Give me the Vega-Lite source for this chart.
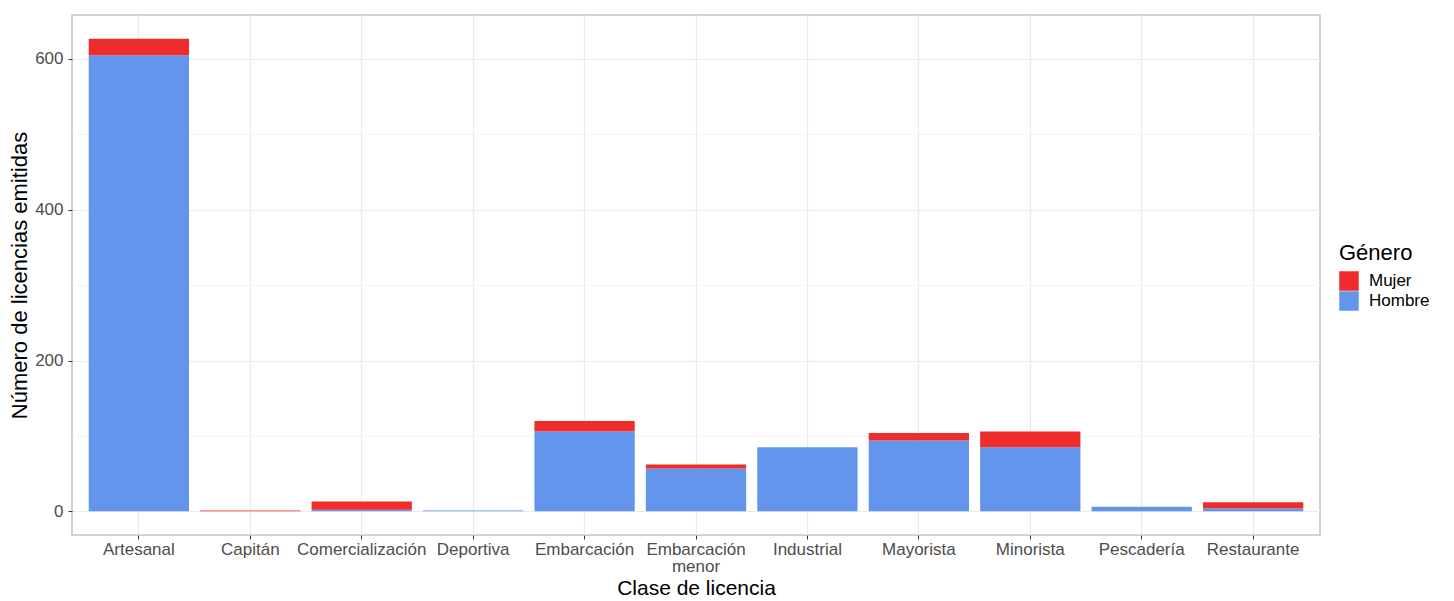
{
  "$schema": "https://vega.github.io/schema/vega-lite/v6.json",
  "autosize": {"type": "none"},
  "width": 1248,
  "height": 520,
  "padding": {"left": 72, "top": 15, "right": 134, "bottom": 66},
  "background": "white",
  "config": {
    "font": "Liberation Sans",
    "view": {"stroke": "#c4c4c4", "strokeWidth": 1.5},
    "axis": {"domain": false, "tickColor": "#333333", "tickSize": 4, "labelColor": "#4d4d4d", "labelFontSize": 17, "titleColor": "#000000", "titleFontSize": 21, "titleFontWeight": "normal", "gridColor": "#ebebeb", "gridWidth": 1.2}
  },
  "data": {"values": [
    {"Clase": "Artesanal", "Genero": "Hombre", "n": 605},
    {"Clase": "Artesanal", "Genero": "Mujer", "n": 22},
    {"Clase": "Capitán", "Genero": "Hombre", "n": 0},
    {"Clase": "Capitán", "Genero": "Mujer", "n": 1},
    {"Clase": "Comercialización", "Genero": "Hombre", "n": 2},
    {"Clase": "Comercialización", "Genero": "Mujer", "n": 11},
    {"Clase": "Deportiva", "Genero": "Hombre", "n": 1},
    {"Clase": "Deportiva", "Genero": "Mujer", "n": 0},
    {"Clase": "Embarcación", "Genero": "Hombre", "n": 106},
    {"Clase": "Embarcación", "Genero": "Mujer", "n": 14},
    {"Clase": "Embarcación menor", "Genero": "Hombre", "n": 57},
    {"Clase": "Embarcación menor", "Genero": "Mujer", "n": 5},
    {"Clase": "Industrial", "Genero": "Hombre", "n": 85},
    {"Clase": "Industrial", "Genero": "Mujer", "n": 0},
    {"Clase": "Mayorista", "Genero": "Hombre", "n": 94},
    {"Clase": "Mayorista", "Genero": "Mujer", "n": 10},
    {"Clase": "Minorista", "Genero": "Hombre", "n": 85},
    {"Clase": "Minorista", "Genero": "Mujer", "n": 21},
    {"Clase": "Pescadería", "Genero": "Hombre", "n": 6},
    {"Clase": "Pescadería", "Genero": "Mujer", "n": 0},
    {"Clase": "Restaurante", "Genero": "Hombre", "n": 4},
    {"Clase": "Restaurante", "Genero": "Mujer", "n": 8}
  ]},
  "layer": [
    {
      "mark": {"type": "bar"},
      "encoding": {
        "x": {
          "field": "Clase", "type": "nominal", "sort": null,
          "scale": {"paddingInner": 0.1, "paddingOuter": 0.15},
          "axis": {"title": "Clase de licencia", "labelAngle": 0, "grid": true, "bandPosition": 0.5, "labelPadding": 2, "titlePadding": 3,
            "labelExpr": "datum.label == 'Embarcación menor' ? ['Embarcación', 'menor'] : datum.label", "labelLineHeight": 17, "labelOverlap": false}
        },
        "y": {
          "field": "n", "type": "quantitative", "aggregate": "sum", "stack": "zero",
          "scale": {"domain": [-31.35, 658.35], "nice": false, "zero": false},
          "axis": {"title": "Número de licencias emitidas", "titleFontSize": 22, "values": [0, 100, 200, 300, 400, 500, 600], "labelPadding": 5, "titlePadding": 3,
            "labelExpr": "datum.value % 200 == 0 ? datum.label : ''",
            "tickOpacity": {"condition": {"test": "datum.value % 200 == 0", "value": 1}, "value": 0},
            "gridColor": {"condition": {"test": "datum.value % 200 == 0", "value": "#ebebeb"}, "value": "#f4f4f4"}}
        },
        "color": {
          "field": "Genero", "type": "nominal",
          "scale": {"domain": ["Mujer", "Hombre"], "range": ["#EE2C2C", "#6495ED"]},
          "legend": {"title": "Género", "orient": "none", "legendX": 1267, "legendY": 228, "titleFontSize": 22, "titleFontWeight": "normal", "titleColor": "#000000", "labelFontSize": 17, "labelColor": "#000000", "labelOffset": 10, "symbolType": "square", "symbolSize": 380, "symbolStrokeWidth": 0, "rowPadding": 0, "titlePadding": 6}
        },
        "order": {"field": "Genero", "sort": "ascending"}
      }
    }
  ]
}
